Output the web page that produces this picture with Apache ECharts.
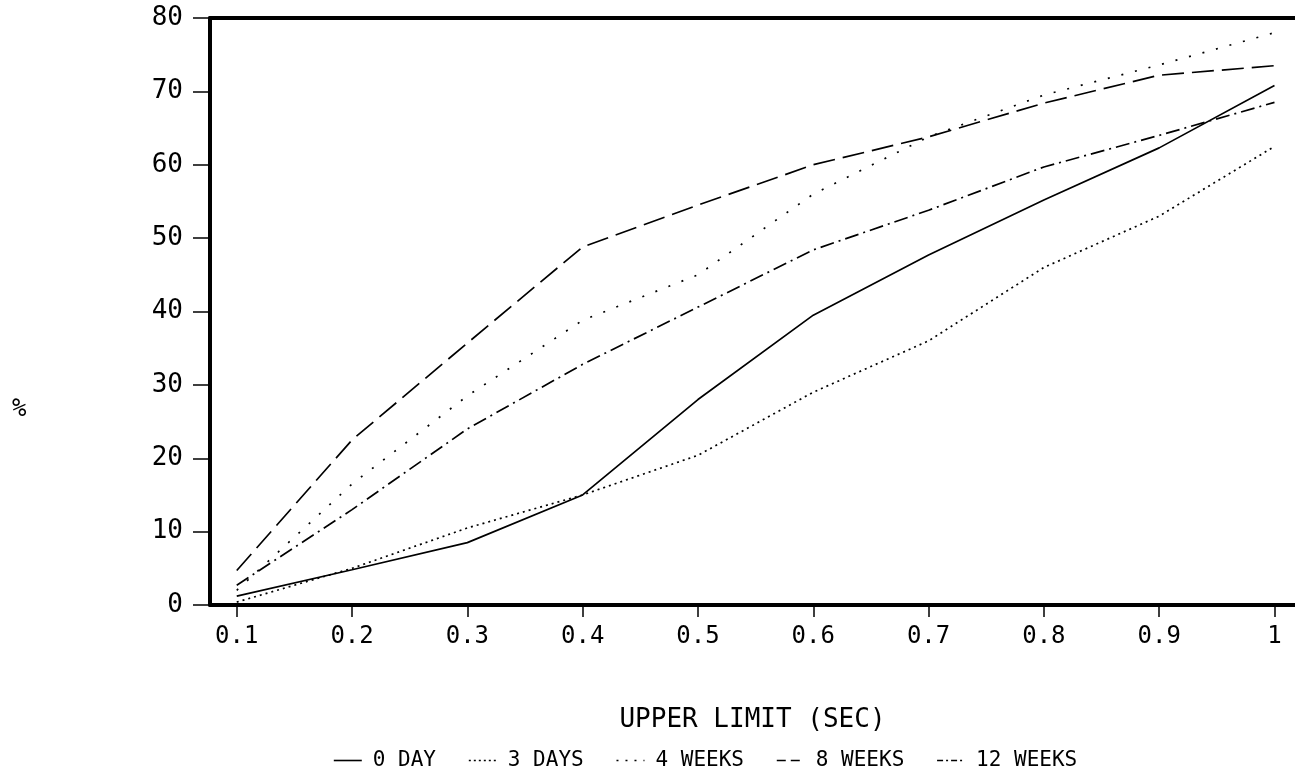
<!DOCTYPE html>
<html>
<head>
<meta charset="utf-8">
<script src="https://cdn.jsdelivr.net/npm/echarts@6/dist/echarts.min.js"></script>
<style>
  html, body { margin: 0; padding: 0; background: #fff; }
  #chart { width: 1295px; height: 781px; }
</style>
</head>
<body>
<div id="chart"></div>
<script>
// Upper limit of the interval (seconds)
const upperLimits = [0.1, 0.2, 0.3, 0.4, 0.5, 0.6, 0.7, 0.8, 0.9, 1.0];
const xTicks = [0.1, 0.2, 0.3, 0.4, 0.5, 0.6, 0.7, 0.8, 0.9, 1.0];

// Cumulative percentage for each storage time
const day0    = [1.2, 4.8, 8.5, 15.0, 28.0, 39.5, 47.7, 55.2, 62.3, 70.8];
const days3   = [0.4, 5.0, 10.5, 15.0, 20.4, 29.0, 36.0, 46.0, 53.0, 62.5];
const weeks4  = [2.0, 16.5, 28.5, 38.8, 45.0, 56.0, 63.8, 69.5, 73.6, 78.0];
const weeks8  = [4.7, 22.5, 35.7, 48.8, 54.5, 60.0, 63.8, 68.4, 72.2, 73.5];
const weeks12 = [2.7, 13.0, 24.0, 32.8, 40.6, 48.4, 53.8, 59.7, 64.0, 68.5];

const seriesNames = ['0 DAY', '3 DAYS', '4 WEEKS', '8 WEEKS', '12 WEEKS'];
const seriesData = [day0, days3, weeks4, weeks8, weeks12];
const dashTypes = ['solid', [2, 4], [2, 12], [22, 8], [14, 5, 2, 5]];
const legendDash = ['solid', [2, 3], [2, 7], [9, 5], [6, 3, 2, 3]];

const FONT = '"DejaVu Sans Mono", monospace';

const chart = echarts.init(document.getElementById('chart'));

const series = seriesNames.map((name, i) => ({
  name: name,
  type: 'line',
  data: upperLimits.map((x, j) => [x, seriesData[i][j]]),
  showSymbol: false,
  symbol: 'none',
  smooth: false,
  lineStyle: { color: '#000', width: 1.7, type: dashTypes[i] },
  itemStyle: { color: '#000' },
  animation: false
}));

chart.setOption({
  backgroundColor: '#fff',
  animation: false,
  grid: { left: 210, right: 0, top: 18, bottom: 176, containLabel: false },
  legend: {
    bottom: 5,
    left: 328,
    itemWidth: 28,
    itemHeight: 12,
    itemGap: 32,
    textStyle: { fontFamily: FONT, fontSize: 21, color: '#000', padding: [0, 0, 0, 6] },
    data: seriesNames.map((name, i) => ({
      name: name,
      itemStyle: { color: 'rgba(0,0,0,0)', borderWidth: 0 },
      lineStyle: { color: '#000', width: 1.6, type: legendDash[i] }
    }))
  },
  xAxis: [{
    type: 'value',
    min: 0.0768,
    max: 1.0178,
    position: 'bottom',
    name: 'UPPER LIMIT (SEC)',
    nameLocation: 'middle',
    nameGap: 102,
    nameTextStyle: { fontFamily: FONT, fontSize: 26, color: '#000' },
    axisLine: { show: true, onZero: false, lineStyle: { color: '#000', width: 4 } },
    axisTick: { show: true, customValues: xTicks, length: 12, lineStyle: { color: '#000', width: 1.5 } },
    axisLabel: {
      customValues: xTicks,
      margin: 20,
      fontFamily: FONT, fontSize: 24, color: '#000',
      formatter: v => String(Math.round(v * 10) / 10)
    },
    splitLine: { show: false }
  }, {
    type: 'value',
    min: 0.0768,
    max: 1.0178,
    position: 'top',
    axisLine: { show: true, onZero: false, lineStyle: { color: '#000', width: 4 } },
    axisTick: { show: false },
    axisLabel: { show: false },
    splitLine: { show: false }
  }],
  yAxis: {
    type: 'value',
    min: 0,
    max: 80,
    interval: 10,
    axisLine: { show: true, onZero: false, lineStyle: { color: '#000', width: 4 } },
    axisTick: { show: true, length: 17, lineStyle: { color: '#000', width: 1.5 } },
    axisLabel: { margin: 27, fontFamily: FONT, fontSize: 26, color: '#000' },
    splitLine: { show: false }
  },
  graphic: [{
    type: 'text',
    left: 12,
    top: 398,
    style: { text: '%', font: '24px ' + FONT, fill: '#000' }
  }],
  series: series
});
</script>
</body>
</html>
